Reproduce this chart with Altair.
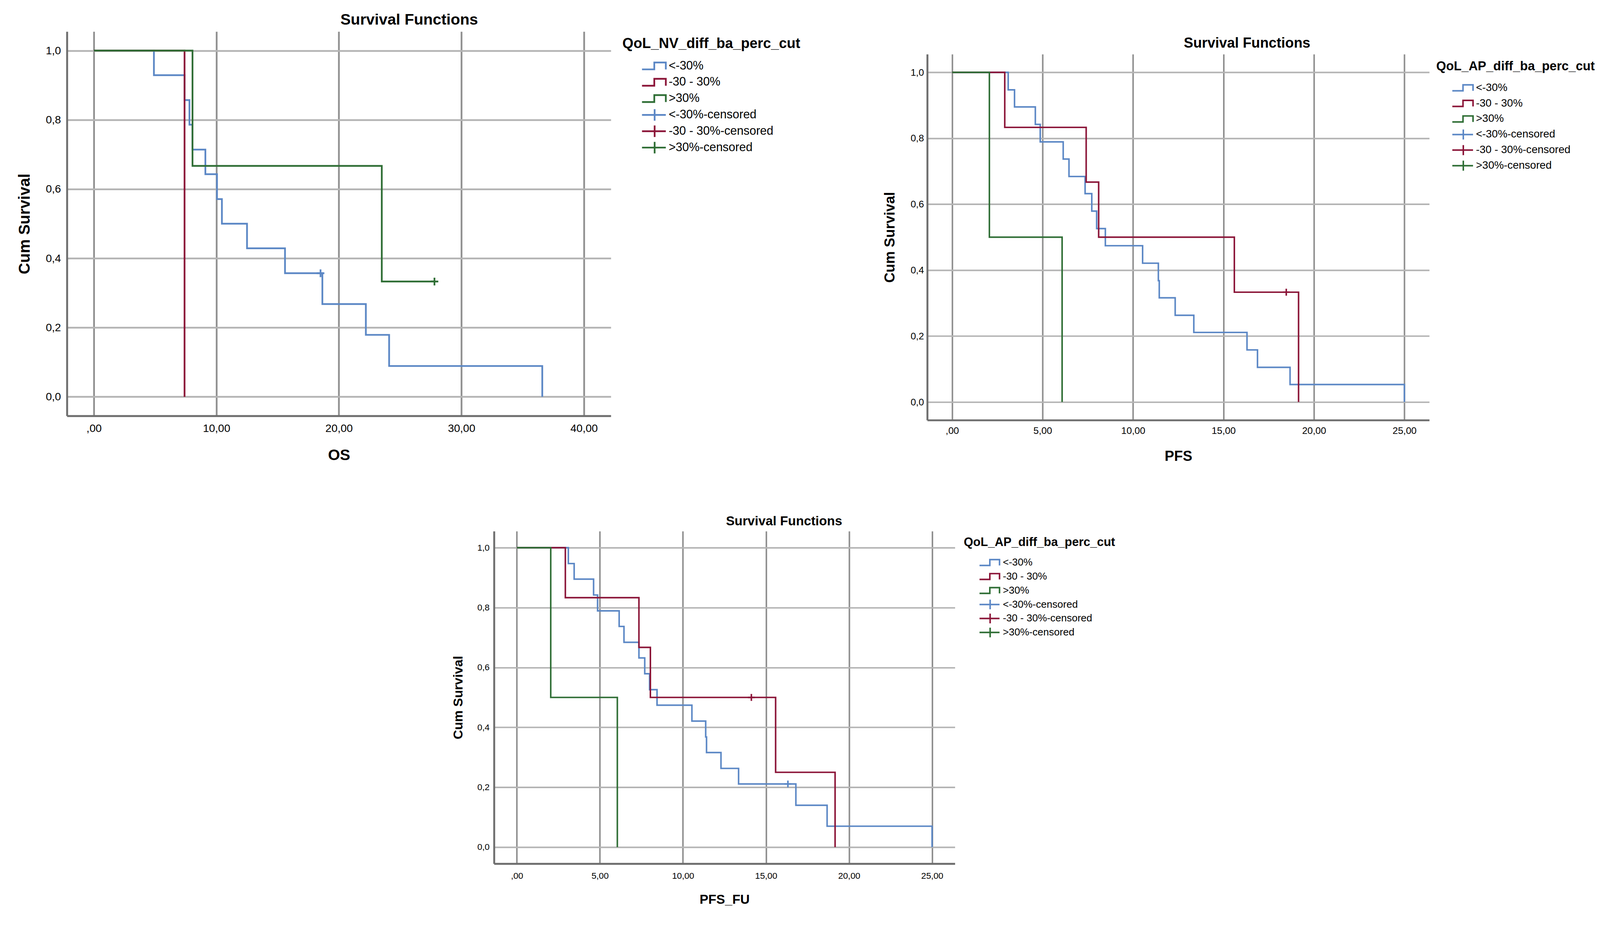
import altair as alt
import pandas as pd

GROUPS = ["<-30%", "-30 - 30%", ">30%"]
CENS = ["<-30%-censored", "-30 - 30%-censored", ">30%-censored"]
LEGEND_DOMAIN = GROUPS + CENS
LINE_COLORS = ["#5b87c5", "#8b1538", "#2f6e35"]
COLOR_RANGE = LINE_COLORS + LINE_COLORS

# legend icons (both span the same vertical extent so legend rows are even)
STEP_PATH = "M-1,0.6H1.13V-0.6H3.13V0.6M1,-1M1,1"
PLUS_LEG_PATH = "M-1,0H3.13M1.19,-1V1"
SHAPE_RANGE = [STEP_PATH] * 3 + [PLUS_LEG_PATH] * 3
CENSOR_MARK = "M-1,0H1M0,-1V1"

FONT = "Liberation Sans, Arial, sans-serif"

# ---------------- OS ----------------
os_blue_t = [0, 4.9, 7.4, 7.8, 8.05, 9.1, 10.05, 10.45, 12.5, 15.6, 18.65, 22.2, 24.1, 36.6]
os_blue_s = [1.0, 0.929, 0.857, 0.786, 0.714, 0.643, 0.571, 0.5, 0.429, 0.357, 0.268, 0.179, 0.089, 0.0]
os_red_t = [0, 7.4]
os_red_s = [1.0, 0.0]
os_green_t = [0, 8.05, 23.5, 27.8]
os_green_s = [1.0, 0.667, 0.333, 0.333]
os_cens_t = [18.5, 27.8]
os_cens_s = [0.357, 0.333]
os_cens_g = ["<-30%-censored", ">30%-censored"]

# ---------------- PFS ----------------
pfs_blue_t = [0, 3.1, 3.45, 4.6, 4.87, 6.14, 6.46, 7.35, 7.72, 7.99, 8.47, 10.53, 11.40, 11.45,
              12.33, 13.36, 16.3, 16.88, 18.68, 25.0]
pfs_blue_s = [1.0, 0.947, 0.895, 0.842, 0.789, 0.737, 0.684, 0.632, 0.579, 0.526, 0.474, 0.421, 0.368,
              0.316, 0.263, 0.211, 0.158, 0.105, 0.053, 0.0]
pfs_red_t = [0, 2.91, 7.41, 8.1, 15.6, 19.15]
pfs_red_s = [1.0, 0.833, 0.667, 0.5, 0.333, 0.0]
pfs_green_t = [0, 2.06, 6.08]
pfs_green_s = [1.0, 0.5, 0.0]
pfs_cens_t = [18.47]
pfs_cens_s = [0.333]
pfs_cens_g = ["-30 - 30%-censored"]

# ---------------- PFS_FU ----------------
fu_blue_t = [0, 3.1, 3.45, 4.62, 4.86, 6.16, 6.45, 7.35, 7.7, 7.99, 8.44, 10.54, 11.37, 11.42,
             12.29, 13.35, 16.8, 18.68, 25.0]
fu_blue_s = [1.0, 0.947, 0.895, 0.842, 0.789, 0.737, 0.684, 0.632, 0.579, 0.526, 0.474, 0.421, 0.368,
             0.316, 0.263, 0.211, 0.140, 0.070, 0.0]
fu_red_t = [0, 2.92, 7.35, 8.04, 15.58, 19.16]
fu_red_s = [1.0, 0.833, 0.667, 0.5, 0.25, 0.0]
fu_green_t = [0, 2.04, 6.05]
fu_green_s = [1.0, 0.5, 0.0]
fu_cens_t = [16.32, 14.12]
fu_cens_s = [0.211, 0.5]
fu_cens_g = ["<-30%-censored", "-30 - 30%-censored"]

Y_TICKS = [0.0, 0.2, 0.4, 0.6, 0.8, 1.0]
X_TICKS_OS = [0, 10, 20, 30, 40]
X_TICKS_PFS = [0, 5, 10, 15, 20, 25]


def panel(curves, cens, xticks, c):
    rows = []
    for g, (ts, ss) in zip(GROUPS, curves):
        for i, (t, s) in enumerate(zip(ts, ss)):
            rows.append({"t": t, "s": s, "lbl": g, "i": i})
    lines_df = pd.DataFrame(rows)
    cens_df = pd.DataFrame({"t": cens[0], "s": cens[1], "lbl": cens[2]})

    xmax = xticks[-1]
    pad = xmax * 0.055
    cscale = alt.Scale(domain=LEGEND_DOMAIN, range=COLOR_RANGE)
    sscale = alt.Scale(domain=LEGEND_DOMAIN, range=SHAPE_RANGE)
    xs = alt.Scale(domain=[-pad, xmax + pad], nice=False, zero=False)
    ys = alt.Scale(domain=[-0.055, 1.055], nice=False, zero=False)

    xaxis = alt.Axis(
        values=xticks,
        labelExpr="datum.value == 0 ? ',00' : replace(format(datum.value, '.2f'), '.', ',')",
        title=c["xtitle"], titleFont=FONT, titleFontSize=c["xtitle_fs"], titleFontWeight="bold",
        titleColor="black", titleX=c["w"] / 2, titleY=c["xtitle_y"], titleBaseline="middle",
        labelFont=FONT, labelFontSize=c["tick_fs"], labelColor="black", labelPadding=c["xlab_pad"],
        ticks=False, domainColor="#6e6e6e", domainWidth=c["dom_w"],
        grid=True, gridColor="#8f8f8f", gridWidth=c["grid_w"], labelFlush=False, labelOverlap=False,
    )
    yaxis = alt.Axis(
        values=Y_TICKS,
        labelExpr="replace(format(datum.value, '.1f'), '.', ',')",
        title="Cum Survival", titleFont=FONT, titleFontSize=c["ytitle_fs"], titleFontWeight="bold",
        titleColor="black", titleX=c["ytitle_x"], titleY=c["h"] / 2, titleBaseline="middle",
        labelFont=FONT, labelFontSize=c["tick_fs"], labelColor="black", labelPadding=c["ylab_pad"],
        ticks=False, domainColor="#6e6e6e", domainWidth=c["dom_w"],
        grid=True, gridColor="#b4b4b4", gridWidth=c["grid_w"], labelFlush=False, labelOverlap=False,
    )
    X = alt.X("t:Q", scale=xs, axis=xaxis)
    Y = alt.Y("s:Q", scale=ys, axis=yaxis)

    lines = alt.Chart(lines_df).mark_line(interpolate="step-after", strokeWidth=c["lw"]).encode(
        x=X, y=Y,
        color=alt.Color("lbl:N", scale=cscale, legend=None),
        order=alt.Order("i:Q"),
    )
    marks = alt.Chart(cens_df).mark_point(
        shape=CENSOR_MARK, size=c["cens_size"], filled=False, strokeWidth=c["lw"], opacity=1
    ).encode(
        x=X, y=Y,
        color=alt.Color("lbl:N", scale=cscale, legend=None),
    )
    leg = alt.Legend(
        title=c["leg_title"], orient="none", legendX=c["leg_x"], legendY=c["leg_y"],
        titleFont=FONT, titleFontSize=c["leg_title_fs"], titleFontWeight="bold", titleColor="black",
        titlePadding=c["leg_title_pad"], titleLimit=2000,
        labelFont=FONT, labelFontSize=c["leg_label_fs"], labelColor="black", labelLimit=2000,
        labelOffset=c["leg_label_off"], symbolOffset=c["leg_sym_off"],
        symbolSize=c["leg_sym"] ** 2, symbolStrokeWidth=c["lw"], symbolFillColor="transparent",
        rowPadding=c["leg_row_pad"], padding=0,
    )
    legend_layer = alt.Chart(cens_df).transform_filter("false").mark_point(
        filled=False, strokeWidth=c["lw"], opacity=1
    ).encode(
        color=alt.Color("lbl:N", scale=cscale, legend=leg),
        shape=alt.Shape("lbl:N", scale=sscale, legend=leg),
    )
    return alt.layer(lines, marks, legend_layer).resolve_legend(
        color="independent", shape="independent"
    ).properties(
        width=c["w"], height=c["h"],
        title=alt.TitleParams(
            text="Survival Functions", font=FONT, fontSize=c["title_fs"], fontWeight="bold",
            color="black", anchor="middle", frame="group", dx=c["title_dx"], offset=c["title_off"],
        ),
    )


def spacer(w, h):
    return alt.Chart(pd.DataFrame({"a": [0]})).mark_point(opacity=0).properties(width=w, height=h)


def indep(ch):
    return ch.resolve_scale(color="independent", shape="independent").resolve_legend(
        color="independent", shape="independent")


cfg1 = dict(w=1415, h=1000, title_fs=40, title_dx=183, title_off=10, ytitle_fs=41, ytitle_x=-109,
            xtitle="OS", xtitle_fs=40, xtitle_y=103, tick_fs=28.5, ylab_pad=16, xlab_pad=18.5,
            leg_title="QoL_NV_diff_ba_perc_cut", leg_x=1445, leg_y=14, leg_title_fs=37, leg_label_fs=31,
            leg_sym=30, leg_sym_off=48.5, leg_label_off=37, leg_row_pad=-6.5, leg_title_pad=21,
            lw=4.5, grid_w=4.5, dom_w=5, cens_size=400)
cfg2 = dict(w=1306, h=952, title_fs=36.8, title_dx=179, title_off=9.5, ytitle_fs=37, ytitle_x=-97,
            xtitle="PFS", xtitle_fs=37, xtitle_y=95, tick_fs=25, ylab_pad=9, xlab_pad=15,
            leg_title="QoL_AP_diff_ba_perc_cut", leg_x=1324, leg_y=16, leg_title_fs=33, leg_label_fs=28,
            leg_sym=26.1, leg_sym_off=39.5, leg_label_off=33, leg_row_pad=-2.5, leg_title_pad=23,
            lw=4, grid_w=4, dom_w=5, cens_size=324)
cfg3 = dict(w=1199, h=865, title_fs=33.8, title_dx=155, title_off=8.5, ytitle_fs=34, ytitle_x=-92,
            xtitle="PFS_FU", xtitle_fs=34, xtitle_y=94, tick_fs=23, ylab_pad=12, xlab_pad=21,
            leg_title="QoL_AP_diff_ba_perc_cut", leg_x=1222, leg_y=14, leg_title_fs=31.5, leg_label_fs=26.5,
            leg_sym=25.2, leg_sym_off=38.6, leg_label_off=33, leg_row_pad=-5.6, leg_title_pad=21,
            lw=4, grid_w=4, dom_w=5, cens_size=324)

p1 = panel([(os_blue_t, os_blue_s), (os_red_t, os_red_s), (os_green_t, os_green_s)],
           (os_cens_t, os_cens_s, os_cens_g), X_TICKS_OS, cfg1)
p2 = panel([(pfs_blue_t, pfs_blue_s), (pfs_red_t, pfs_red_s), (pfs_green_t, pfs_green_s)],
           (pfs_cens_t, pfs_cens_s, pfs_cens_g), X_TICKS_PFS, cfg2)
p3 = panel([(fu_blue_t, fu_blue_s), (fu_red_t, fu_red_s), (fu_green_t, fu_green_s)],
           (fu_cens_t, fu_cens_s, fu_cens_g), X_TICKS_PFS, cfg3)

right_col = indep(alt.vconcat(spacer(1, 12), p2, spacing=0))
row1 = indep(alt.hconcat(p1, right_col, spacing=214))
row2 = indep(alt.hconcat(spacer(1002, 1), p3, spacing=0))
chart = indep(alt.vconcat(row1, row2, spacing=133)).properties(
    padding={"left": 36, "top": 5, "right": 5, "bottom": 5}
).configure_view(stroke=None)

chart.save("out.html", embed_options={"renderer": "svg", "actions": False})
